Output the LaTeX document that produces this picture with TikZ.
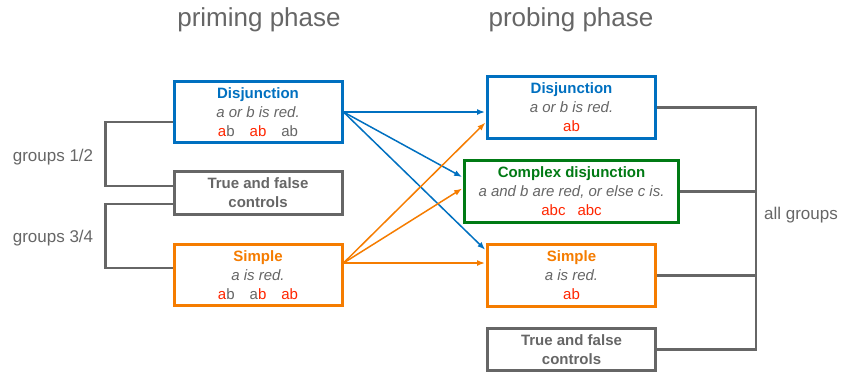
\documentclass[tikz,border=0pt]{standalone}
\usepackage{fontspec}
\setmainfont{Liberation Sans}
\usetikzlibrary{arrows.meta}

\definecolor{blueD}{RGB}{0,112,192}
\definecolor{orangeS}{RGB}{245,124,0}
\definecolor{greenC}{RGB}{0,122,20}
\definecolor{grayT}{RGB}{102,102,102}
\definecolor{redA}{RGB}{255,38,0}

\newcommand{\rd}[1]{\textcolor{redA}{#1}}

\begin{document}
\begin{tikzpicture}[x=1pt,y=-1pt,
	box/.style={draw,line width=3pt,fill=white,align=center,text=grayT,minimum width=168pt,inner sep=0pt,font=\fontsize{15}{19}\selectfont},
	bracket/.style={draw=grayT,line width=2.5pt},
	arr/.style={line width=1.5pt,shorten >=1pt,-{Latex[length=8pt,width=6pt]}},
	lbl/.style={text=grayT,font=\fontsize{17}{20}\selectfont},
	phase/.style={text=grayT,font=\fontsize{26}{30}\selectfont}]
	\useasboundingbox (0,0) rectangle (841,373);

	%titles
	\node[phase] (prim) at (259,20) {priming phase}; %left title
	\node[phase] (prob) at (571,20) {probing phase}; %right title

	%priming boxes
	\node[box,draw=blueD,minimum height=61pt] (dis1) at (258,112) {\textbf{\textcolor{blueD}{Disjunction}}\\\textit{a or b is red.}\\\rd{a}b\quad\rd{ab}\quad ab}; %disjunction 1
	\node[box,draw=grayT,minimum height=43pt] (tf1) at (258,193) {\textbf{True and false}\\\textbf{controls}}; %controls 1
	\node[box,draw=orangeS,minimum height=61pt] (sim1) at (258,275) {\textbf{\textcolor{orangeS}{Simple}}\\\textit{a is red.}\\\rd{a}b\quad a\rd{b}\quad\rd{ab}}; %simple 1

	%probing boxes
	\node[box,draw=blueD,minimum height=62pt] (dis2) at (571.5,107.5) {\textbf{\textcolor{blueD}{Disjunction}}\\\textit{a or b is red.}\\\rd{ab}}; %disjunction 2
	\node[box,draw=greenC,minimum width=214pt,minimum height=62pt] (cdis) at (571.5,191.5) {\textbf{\textcolor{greenC}{Complex disjunction}}\\\textit{a and b are red, or else c is.}\\\rd{abc}\hspace{12pt}\rd{abc}}; %complex disjunction
	\node[box,draw=orangeS,minimum height=62pt] (sim2) at (571.5,275.5) {\textbf{\textcolor{orangeS}{Simple}}\\\textit{a is red.}\\\rd{ab}}; %simple 2
	\node[box,draw=grayT,minimum height=42pt] (tf2) at (571.5,349.5) {\textbf{True and false}\\\textbf{controls}}; %controls 2

	%group labels
	\node[lbl] (g12) at (53,157) {groups 1/2};
	\node[lbl] (g34) at (53,238) {groups 3/4};
	\node[lbl] (gall) at (801,215) {all groups};

	%brackets
	\draw[bracket] ([yshift=-10pt]dis1.west) -- +(-67,0) |- ([yshift=7pt]tf1.west); %groups 1/2
	\draw[bracket] ([yshift=-11pt]tf1.west) -- +(-67,0) |- ([yshift=7pt]sim1.west); %groups 3/4
	\coordinate (ag) at (756,0); %all groups line
	\draw[bracket] (dis2.east) -| (ag |- tf2.east) -- (tf2.east);
	\draw[bracket] (cdis.east) -- (cdis.east -| ag);
	\draw[bracket] (sim2.east) -- (sim2.east -| ag);

	%arrows
	\draw[arr,blueD] (dis1.east) -- ([yshift=-4.5pt]dis2.west);
	\draw[arr,blueD] (dis1.east) -- ([yshift=14pt]cdis.west);
	\draw[arr,blueD] (dis1.east) -- ([yshift=25pt]sim2.west);
	\draw[arr,orangeS] ([yshift=12pt]sim1.east) -- ([yshift=-14.5pt]dis2.west);
	\draw[arr,orangeS] ([yshift=12pt]sim1.east) -- ([yshift=3.5pt]cdis.west);
	\draw[arr,orangeS] ([yshift=12pt]sim1.east) -- ([yshift=12.5pt]sim2.west);
\end{tikzpicture}
\end{document}
